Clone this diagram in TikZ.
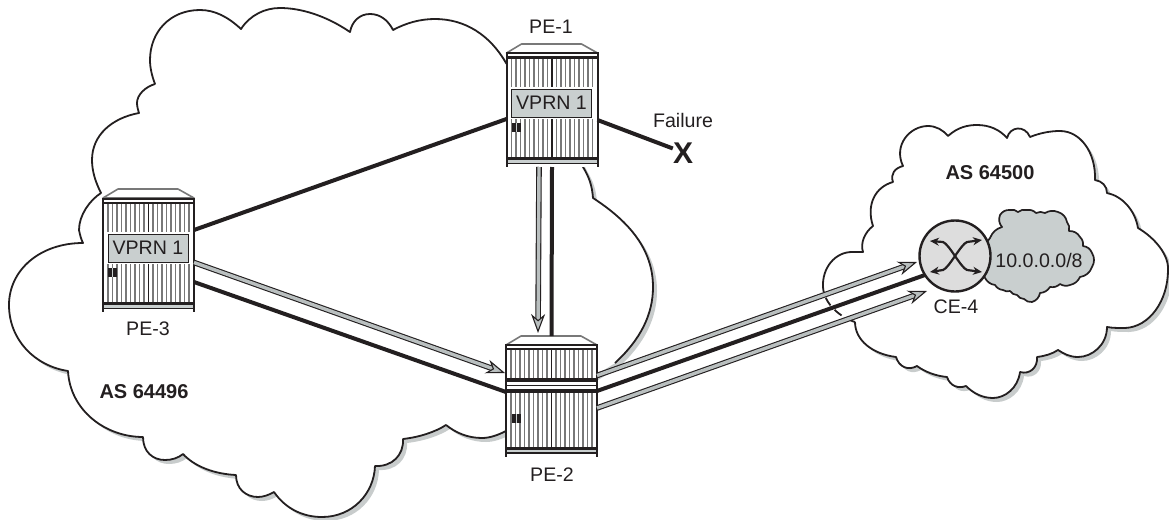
\documentclass[tikz,border=0pt]{standalone}
\usepackage{fontspec}
\setmainfont{Liberation Sans}
\usetikzlibrary{arrows.meta}
\definecolor{ink}{HTML}{231F20}
\definecolor{panelgray}{HTML}{C9CFCF}
\definecolor{shadowgray}{HTML}{C8CCCC}
\definecolor{routergray}{HTML}{DDDDDD}
\definecolor{stripegray}{HTML}{787878}
\definecolor{linkgray}{HTML}{B9BFBF}
\def\cloudwest{(615,363)
 .. controls (640,340) and (653,315) .. (653,287)
 .. controls (653,250) and (630,222) .. (593,198)
 .. controls (592,185) and (589,177) .. (583,167)
 -- (560,120) -- (506,63)
 .. controls (490,35) and (465,19) .. (435,19)
 .. controls (420,19) and (406,23) .. (393,30)
 .. controls (388,20) and (380,14) .. (370,14)
 .. controls (360,14) and (352,21) .. (350,32)
 .. controls (325,15) and (300,8) .. (280,8)
 .. controls (265,8) and (250,15) .. (241,29)
 .. controls (228,17) and (215,10) .. (200,10)
 .. controls (170,10) and (150,32) .. (150,60)
 .. controls (150,68) and (152,76) .. (155,84)
 .. controls (145,87) and (137,95) .. (137,103)
 .. controls (137,106) and (138,110) .. (139,113)
 .. controls (112,118) and (92,135) .. (92,160)
 .. controls (92,172) and (96,183) .. (101,193)
 .. controls (90,200) and (79,215) .. (79,230)
 .. controls (80,235) and (81,239) .. (83,243)
 .. controls (40,243) and (9,270) .. (9,305)
 .. controls (9,340) and (35,366) .. (68,371)
 .. controls (70,410) and (105,437) .. (143,437)
 .. controls (143,452) and (153,460) .. (165,460)
 .. controls (172,460) and (178,458) .. (183,454)
 .. controls (195,467) and (215,474) .. (236,475)
 .. controls (236,489) and (246,497) .. (258,497)
 .. controls (263,497) and (269,495) .. (274,492)
 .. controls (285,508) and (302,517) .. (322,517)
 .. controls (352,517) and (374,494) .. (375,466)
 .. controls (392,467) and (404,455) .. (403,439)
 .. controls (420,437) and (435,432) .. (446,425)
 .. controls (456,433) and (468,438) .. (482,438)
 .. controls (490,438) and (498,435) .. (506,431)}
\def\cloudeast{(823,287)
 .. controls (822,268) and (835,252) .. (852,252)
 .. controls (856,252) and (860,252) .. (863,252)
 .. controls (860,243) and (865,232) .. (873,226)
 .. controls (866,205) and (875,187) .. (893,182)
 .. controls (890,174) and (895,168) .. (903,166)
 .. controls (893,145) and (910,126) .. (928,126)
 .. controls (936,126) and (943,130) .. (948,136)
 .. controls (958,127) and (968,125) .. (977,125)
 .. controls (990,125) and (1000,130) .. (1007,138)
 .. controls (1010,126) and (1025,125) .. (1030,137)
 .. controls (1040,133) and (1050,131) .. (1060,131)
 .. controls (1080,131) and (1096,152) .. (1095,180)
 .. controls (1102,181) and (1107,186) .. (1107,193)
 .. controls (1122,196) and (1135,210) .. (1138,228)
 .. controls (1155,238) and (1169,255) .. (1168,270)
 .. controls (1168,300) and (1150,327) .. (1125,328)
 .. controls (1118,328) and (1112,328) .. (1107,327)
 .. controls (1107,345) and (1092,357) .. (1078,357)
 .. controls (1070,357) and (1064,354) .. (1058,350)
 .. controls (1052,354) and (1045,356) .. (1037,357)
 .. controls (1038,367) and (1030,375) .. (1020,372)
 .. controls (1018,388) and (1005,398) .. (993,398)
 .. controls (982,398) and (973,393) .. (966,386)
 .. controls (958,389) and (950,386) .. (947,377)
 .. controls (936,376) and (925,372) .. (917,366)
 .. controls (908,371) and (899,367) .. (896,357)
 .. controls (872,354) and (855,340) .. (855,322)}
\tikzset{
 lbl/.style={font=\fontsize{19.6}{22}\selectfont,text=ink,inner sep=0pt,anchor=center},
 boldlbl/.style={lbl,font=\fontsize{20}{22}\selectfont\bfseries},
 cloudline/.style={draw=ink,line width=1.8pt,line join=round},
 rackarea/.style={inner sep=0pt,outer sep=0pt,minimum width=91pt},
 heavylink/.style={draw=ink,line width=4pt},
 graylink/.style={draw=ink,double=linkgray,double distance=3.4pt,line width=1.1pt,
   -{Stealth[length=19pt,width=14pt,inset=6pt,fill=linkgray,line width=1.1pt]}},
 rackedge/.style={draw=ink,line width=2pt},
 band/.style={fill=ink,draw=none},
 stripe/.style={draw=stripegray,line width=1.1pt},
 rackroof/.style={fill=white,draw=stripegray,line width=1.6pt,line join=round},
 panelbox/.style={fill=panelgray,draw=ink,line width=1pt},
 rackcard/.pic={
  \fill[ink] (0,0) rectangle (9,9);
  \fill[panelgray] (4.1,0) rectangle (4.9,9);
 },
 vprnrack/.pic={
  \fill[white] (0,9) rectangle (91,123);
  \foreach \x in {5,9.5,...,87}{\draw[stripe] (\x,15) -- (\x,113);}
  \draw[draw=ink,line width=1.1pt] (45.5,15) -- (45.5,113);
  \fill[white] (1,43) rectangle (90,75);
  \path[rackroof] (0,9) -- (15,0) -- (75,0) -- (91,9) -- cycle;
  \fill[band] (0,8.5) rectangle (91,10.5);
  \fill[band] (0,12.5) rectangle (91,15);
  \fill[band] (0,113) rectangle (91,116);
  \fill[panelgray] (1,116) rectangle (90,118.5);
  \fill[band] (0,118.5) rectangle (91,120);
  \draw[rackedge] (0,8.5) -- (0,123);
  \draw[rackedge] (91,8.5) -- (91,123);
  \path[panelbox] (5,45) rectangle (85,73);
  \node[lbl] (-panel) at (45,59) {VPRN 1};
  \pic at (5,79) {rackcard};
 },
 splitrack/.pic={
  \fill[white] (0,9) rectangle (91,121);
  \foreach \x in {5,9.5,...,87}{\draw[stripe] (\x,14) -- (\x,42);\draw[stripe] (\x,57) -- (\x,111);}
  \draw[draw=ink,line width=1.1pt] (45.5,14) -- (45.5,42);
  \draw[draw=ink,line width=1.1pt] (45.5,57) -- (45.5,111);
  \path[rackroof] (0,9) -- (15,0) -- (75,0) -- (91,9) -- cycle;
  \fill[band] (0,8) rectangle (91,10);
  \fill[band] (0,11.5) rectangle (91,14);
  \fill[band] (0,42) rectangle (91,46);
  \fill[band] (0,48.5) rectangle (91,50);
  \fill[band] (0,53) rectangle (91,57);
  \fill[band] (0,111) rectangle (91,114);
  \fill[panelgray] (1,114) rectangle (90,116);
  \fill[band] (0,116) rectangle (91,118);
  \draw[rackedge] (0,8) -- (0,121);
  \draw[rackedge] (91,8) -- (91,121);
  \pic at (6,78) {rackcard};
 },
}
\begin{document}
\begin{tikzpicture}[x=1pt,y=-1pt]
\useasboundingbox (0,0) rectangle (1169,519);
% clouds
\fill[shadowgray,shift={(4,4)}] \cloudwest -- cycle;
\fill[white] \cloudwest -- cycle;
\draw[cloudline] \cloudwest;
\fill[shadowgray,shift={(4,4)}] \cloudeast -- cycle;
\fill[white] \cloudeast -- cycle;
\draw[cloudline] \cloudeast;
\draw[cloudline,dash pattern=on 9pt off 6pt] (855,322) .. controls (842,318) and (824,305) .. (823,287);
% prefix cloud
\draw[fill=panelgray,draw=ink,line width=1.7pt,line join=round]
 (985,278) to[bend left=25] (985,255) to[bend left=25] (990,238) to[bend left=25] (1002,227)
 to[bend left=30] (1000,215) to[bend left=30] (1010,210) to[bend left=25] (1018,212) to[bend left=25] (1027,210)
 to[bend left=25] (1036,213) to[bend left=25] (1045,213) to[bend left=25] (1058,212) to[bend left=30] (1067,222)
 to[bend left=25] (1069,231) to[bend left=30] (1080,237) to[bend left=25] (1083,246) to[bend left=30] (1092,253)
 to[bend left=30] (1092,267) to[bend left=30] (1080,277) to[bend left=25] (1070,285) to[bend left=25] (1060,284)
 to[bend left=25] (1050,287) to[bend left=25] (1040,293) to[bend left=30] (1032,302) to[bend left=25] (1024,299)
 to[bend left=25] (1017,295) to[bend left=25] (1010,291) to[bend left=25] (1003,290) to[bend left=25] (995,285)
 to[bend left=25] cycle;
% devices
\node[rackarea,minimum height=123pt] (pe1) at (552,105.5) {};
\node[rackarea,minimum height=123pt] (pe3) at (148.5,250.5) {};
\node[rackarea,minimum height=121pt] (pe2) at (551.5,396.5) {};
\pic at (506.5,44) {vprnrack};
\pic at (103,189) {vprnrack};
\pic at (506,336) {splitrack};
\node[circle,draw=ink,fill=routergray,line width=2.4pt,inner sep=0pt,minimum size=71pt] (ce4) at (955,256) {};
\begin{scope}[shift={(ce4)},line width=2.2pt,ink,{Stealth[length=9pt,width=8pt]}-{Stealth[length=9pt,width=8pt]}]
 \draw (-25,-15) -- (-12,-14) .. controls (-6,-12) and (6,12) .. (12,14) -- (27,16);
 \draw (27,-16) -- (12,-14) .. controls (6,-12) and (-6,12) .. (-12,14) -- (-25,16);
\end{scope}
% labels
\node[lbl] (pe1lbl) at (551,27) {PE-1};
\node[lbl] (pe3lbl) at (148,329) {PE-3};
\node[lbl] (pe2lbl) at (552,475) {PE-2};
\node[lbl] (ce4lbl) at (956,307) {CE-4};
\node[boldlbl] (as1) at (144,392) {AS 64496};
\node[boldlbl] (as2) at (990,173) {AS 64500};
\node[lbl] (pfx) at (1039,260) {10.0.0.0/8};
\node[lbl] (faillbl) at (683,120) {Failure};
\node[lbl,font=\fontsize{30}{32}\selectfont\bfseries] (failx) at (683,153) {X};
% links
\draw[heavylink] ([shift={(0,-20.5)}]pe3.east) -- ([shift={(0,13.5)}]pe1.west);
\draw[heavylink] ([shift={(0,31.5)}]pe3.east) -- ([shift={(0,-4.5)}]pe2.west);
\draw[heavylink] ([shift={(0,14.5)}]pe1.east) -- ([shift={(0,6)}]failx.north west);
\draw[heavylink] (pe1.south) -- (pe2.north);
\draw[heavylink] ([shift={(0,-5.5)}]pe2.east) -- ([shift={(-30,19)}]ce4.center);
\draw[graylink] ([shift={(0,12)}]pe3.east) -- ([shift={(-1,-23.5)}]pe2.west);
\draw[graylink] ([shift={(-13,0)}]pe1.south) -- ([shift={(-13.5,-3)}]pe2.north);
\draw[graylink] ([shift={(0,-21)}]pe2.east) -- ([shift={(-38,6)}]ce4.center);
\draw[graylink] ([shift={(0,11.5)}]pe2.east) -- ([shift={(-28,35)}]ce4.center);
\end{tikzpicture}
\end{document}
